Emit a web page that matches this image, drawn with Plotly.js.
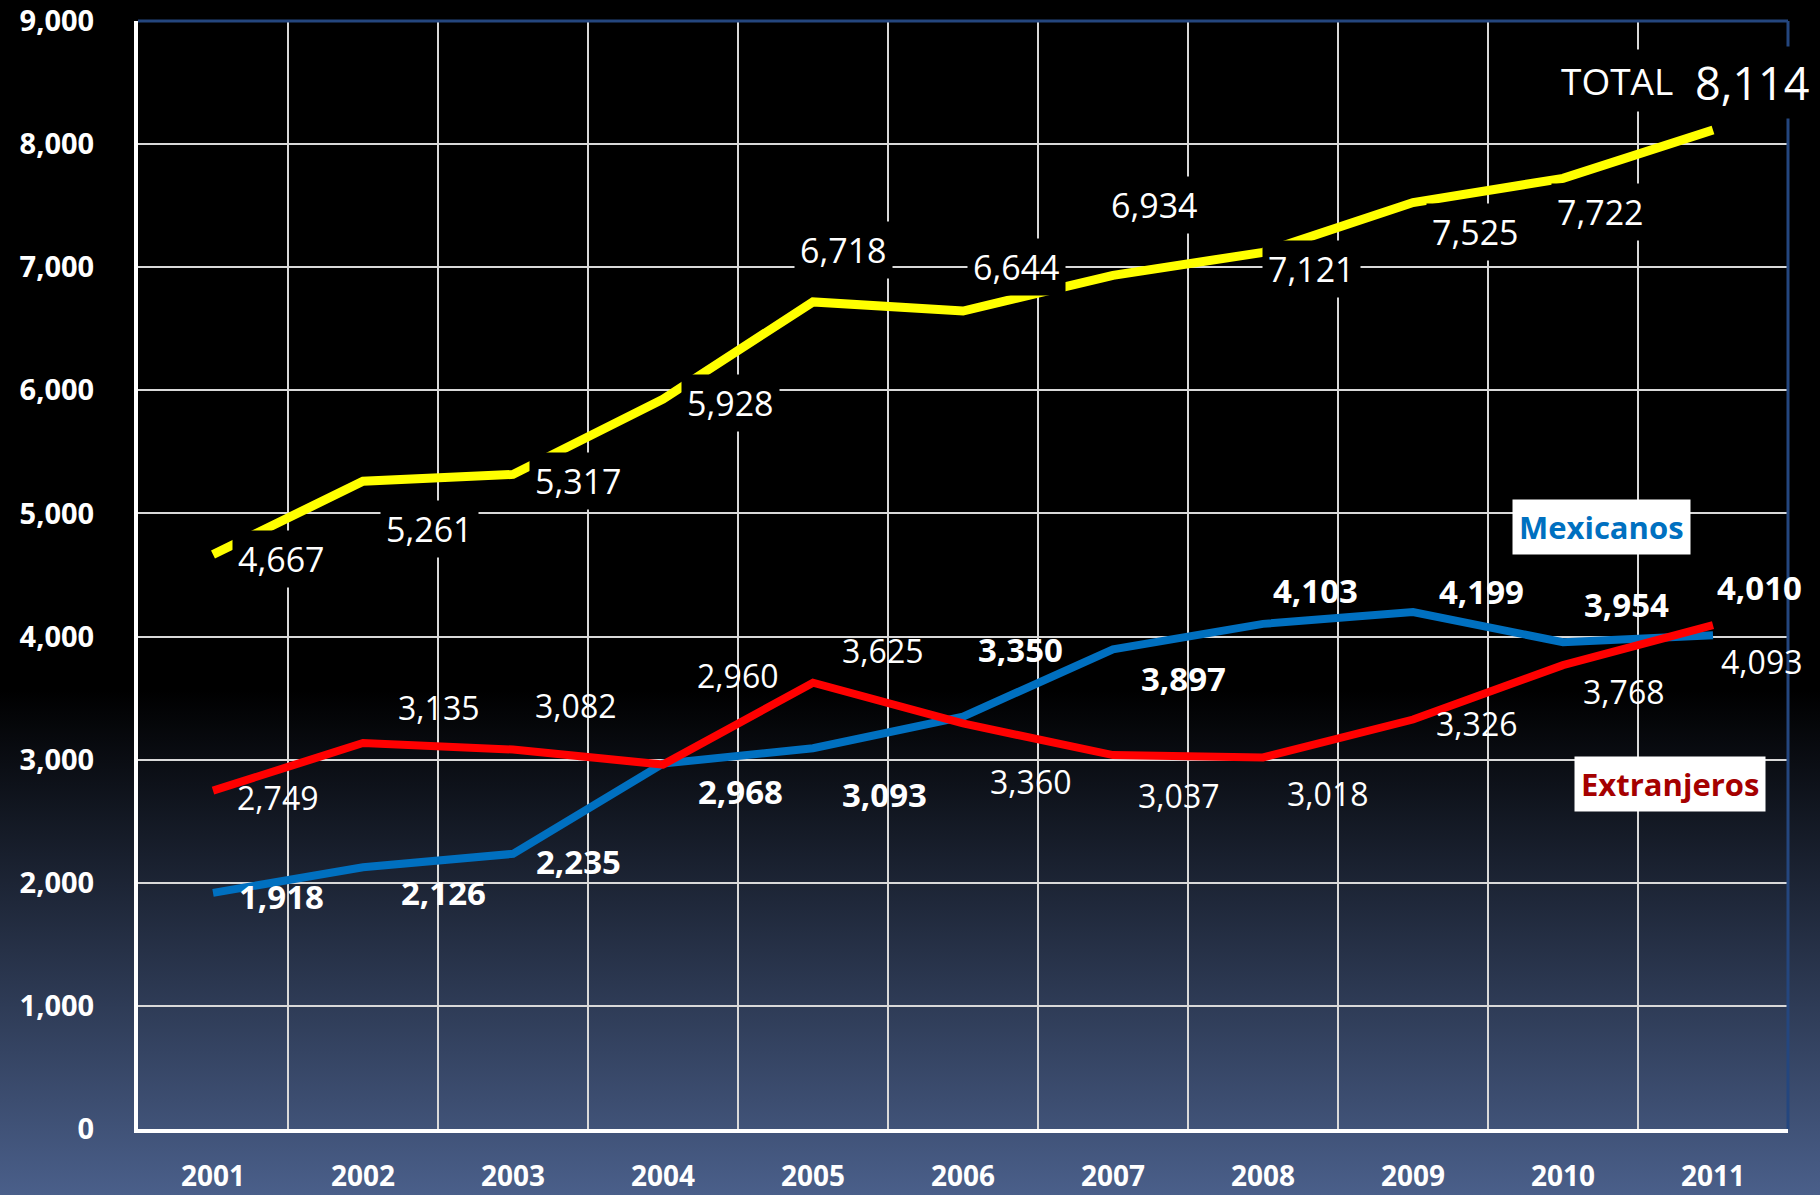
<!DOCTYPE html>
<html>
<head>
<meta charset="utf-8">
<script src="https://cdn.plot.ly/plotly-3.0.1.min.js"></script>
<style>
html, body { margin: 0; padding: 0; background: #000; }
#chart { width: 1820px; height: 1195px;
  background: linear-gradient(to bottom, #000 0px, #000 690px, #4a5f8a 1195px); }
</style>
</head>
<body>
<div id="chart"></div>
<script>
// ---- data ----
const years = [2001, 2002, 2003, 2004, 2005, 2006, 2007, 2008, 2009, 2010, 2011];
const total = [4667, 5261, 5317, 5928, 6718, 6644, 6934, 7121, 7525, 7722, 8114];
const mexicanos = [1918, 2126, 2235, 2968, 3093, 3350, 3897, 4103, 4199, 3954, 4010];
const extranjeros = [2749, 3135, 3082, 2960, 3625, 3294, 3037, 3018, 3326, 3768, 4093];
const extranjerosLabels = ["2,749", "3,135", "3,082", "2,960", "3,625", "3,360", "3,037", "3,018", "3,326", "3,768", "4,093"];
const yTicks = [0, 1000, 2000, 3000, 4000, 5000, 6000, 7000, 8000, 9000];
const seriesNames = ["Mexicanos", "Extranjeros"];
const totalLabel = "TOTAL";

// ---- label placement (pixel offsets from each point: [dx, dy], dy down) ----
const totalOffsets = [[68,5],[66,48],[65,7],[67,4],[30,-52],[53,-44],[41,-70],[48,17],[62,29],[37,34]];
const mexOffsets = [[68,4],[80,25],[65,8],[77,28],[71,46],[57,-67],[70,29],[52,-33],[68,-21],[63,-38],[46,-48]];
const extOffsets = [[64,7],[75,-36],[62,-44],[74,-89],[69,-32],[67,58],[65,40],[64,36],[63,4],[60,26],[48,36]];

const fmt = v => v.toLocaleString('en-US');
const FONT = 'Open Sans, Lato, sans-serif';

const traces = [
  { x: years, y: mexicanos, mode: 'lines', line: { color: '#0070c0', width: 8 }, hoverinfo: 'skip' },
  { x: years, y: extranjeros, mode: 'lines', line: { color: '#ff0000', width: 8 }, hoverinfo: 'skip' },
  { x: years, y: total, mode: 'lines', line: { color: '#ffff00', width: 9 }, hoverinfo: 'skip' }
];

const annotations = [];
for (let i = 0; i < years.length - 1; i++) {
  annotations.push({
    x: years[i], y: total[i], xref: 'x', yref: 'y',
    text: fmt(total[i]), showarrow: false, xanchor: 'center', yanchor: 'middle',
    xshift: totalOffsets[i][0], yshift: -totalOffsets[i][1],
    bgcolor: '#000', borderpad: 5,
    font: { family: FONT, size: 34, color: '#ffffff' }
  });
}
const last = years.length - 1;
annotations.push({
  x: years[last], y: total[last], xref: 'x', yref: 'y',
  text: totalLabel, showarrow: false, xanchor: 'center', yanchor: 'middle',
  xshift: -96, yshift: 50,
  bgcolor: '#000', borderpad: 5,
  font: { family: FONT, size: 37, color: '#ffffff' }
});
annotations.push({
  x: years[last], y: total[last], xref: 'x', yref: 'y',
  text: fmt(total[last]), showarrow: false, xanchor: 'center', yanchor: 'middle',
  xshift: 39, yshift: 48,
  bgcolor: '#000', borderpad: 5,
  font: { family: FONT, size: 45, color: '#ffffff' }
});
for (let i = 0; i < years.length; i++) {
  annotations.push({
    x: years[i], y: mexicanos[i], xref: 'x', yref: 'y',
    text: fmt(mexicanos[i]), showarrow: false, xanchor: 'center', yanchor: 'middle',
    xshift: mexOffsets[i][0], yshift: -mexOffsets[i][1],
    font: { family: FONT, size: 33, color: '#ffffff', weight: 'bold' }
  });
  annotations.push({
    x: years[i], y: extranjeros[i], xref: 'x', yref: 'y',
    text: extranjerosLabels[i], showarrow: false, xanchor: 'center', yanchor: 'middle',
    xshift: extOffsets[i][0], yshift: -extOffsets[i][1],
    font: { family: FONT, size: 32, color: '#ffffff' }
  });
}
// series name boxes
annotations.push({
  x: 0.8867, y: 0.5432, xref: 'paper', yref: 'paper', showarrow: false,
  xanchor: 'center', yanchor: 'middle',
  text: seriesNames[0], bgcolor: '#ffffff', borderpad: 6,
  font: { family: FONT, size: 31, color: '#0070c0', weight: 'bold' }
});
annotations.push({
  x: 0.9285, y: 0.3117, xref: 'paper', yref: 'paper', showarrow: false,
  xanchor: 'center', yanchor: 'middle',
  text: seriesNames[1], bgcolor: '#ffffff', borderpad: 6,
  font: { family: FONT, size: 31, color: '#a50000', weight: 'bold' }
});

const layout = {
  width: 1820, height: 1195,
  margin: { l: 138, r: 32, t: 21, b: 66 },
  paper_bgcolor: 'rgba(0,0,0,0)', plot_bgcolor: 'rgba(0,0,0,0)',
  showlegend: false,
  hovermode: false,
  xaxis: {
    range: [years[0] - 0.5, years[last] + 0.5],
    tickmode: 'array', tickvals: years, ticktext: years.map(String),
    showgrid: false, zeroline: false,
    minor: { tickmode: 'linear', tick0: years[0] - 0.5, dtick: 1, showgrid: true, gridcolor: '#d9d9d9', gridwidth: 2, ticks: '' },
    showline: true, linecolor: '#ffffff', linewidth: 4,
    ticks: '', ticklabelstandoff: 19, ticklabeloverflow: 'allow',
    tickfont: { family: FONT, size: 28, color: '#ffffff', weight: 'bold' }
  },
  yaxis: {
    range: [0, 9000],
    tickmode: 'array', tickvals: yTicks, tickformat: ',',
    showgrid: true, gridcolor: '#d9d9d9', gridwidth: 2, zeroline: false,
    showline: true, linecolor: '#ffffff', linewidth: 4,
    ticks: '', ticklabelstandoff: 34, ticklabeloverflow: 'allow',
    tickfont: { family: FONT, size: 29, color: '#ffffff', weight: 'bold' }
  },
  shapes: [
    { type: 'line', xref: 'paper', yref: 'paper', x0: 0, x1: 1, y0: 1, y1: 1, line: { color: '#24467e', width: 3 }, layer: 'above' },
    { type: 'line', xref: 'paper', yref: 'paper', x0: 1, x1: 1, y0: 0, y1: 1, line: { color: '#24467e', width: 3 }, layer: 'above' }
  ],
  annotations: annotations
};

Plotly.newPlot('chart', traces, layout, { displayModeBar: false, staticPlot: true });
</script>
</body>
</html>
